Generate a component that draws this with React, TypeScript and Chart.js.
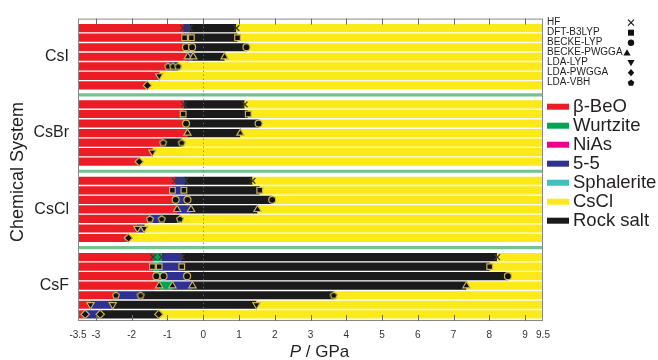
import React, { useEffect, useRef } from "react";
import { Chart, registerables } from "chart.js";

Chart.register(...registerables);

const compounds = ["CsI", "CsBr", "CsCl", "CsF"];
const methods = ["HF", "DFT-B3LYP", "BECKE-LYP", "BECKE-PWGGA", "LDA-LYP", "LDA-PWGGA", "LDA-VBH"];
// method index of each row, top to bottom, inside every compound block
const rowMethods = [0, 1, 2, 3, 6, 4, 5];
const phaseNames = ["β-BeO", "Wurtzite", "NiAs", "5-5", "Sphalerite", "CsCl", "Rock salt"];
const phaseColors = ["#ec1c24", "#00a651", "#ec008c", "#2e3192", "#40bfbf", "#fbe918", "#1a1a1a"];
const pMin = -3.5;
const pMax = 9.5;
const xTickValues = [-3.5, -3, -2, -1, 0, 1, 2, 3, 4, 5, 6, 7, 8, 9, 9.5];
const compoundSlots = [4, 12, 20, 28];
const separatorSlots = [8, 16, 24];

// phase sequence (index into phaseNames) and transition pressures (GPa), per row
const csiPhases = [[0, 3, 6, 5], [0, 3, 6, 5], [0, 3, 6, 5], [0, 3, 6, 5], [0, 3, 6, 5], [0, 5], [0, 5]];
const csiPressures = [[-0.56, -0.38, 0.93], [-0.52, -0.33, 0.96], [-0.48, -0.31, 1.21], [-0.43, -0.28, 0.6], [-0.98, -0.84, -0.7], [-1.23], [-1.56]];
const csbrPhases = [[0, 6, 5], [0, 6, 5], [0, 6, 5], [0, 6, 5], [0, 6, 5], [0, 5], [0, 5]];
const csbrPressures = [[-0.54, 1.16], [-0.56, 1.26], [-0.48, 1.55], [-0.44, 1.04], [-1.12, -0.6], [-1.42], [-1.79]];
const csclPhases = [[0, 3, 6, 5], [0, 3, 6, 5], [0, 3, 6, 5], [0, 3, 6, 5], [0, 3, 6, 5], [0, 3, 5], [0, 5]];
const csclPressures = [[-0.79, -0.51, 1.38], [-0.86, -0.54, 1.58], [-0.77, -0.44, 1.93], [-0.73, -0.34, 1.52], [-1.49, -1.16, -0.65], [-1.84, -1.65], [-2.09]];
const csfPhases = [[0, 1, 3, 6, 5], [0, 1, 3, 6, 5], [0, 1, 3, 6, 5], [0, 1, 3, 6, 5], [0, 3, 6, 5], [0, 3, 6, 5], [0, 3, 6, 5]];
const csfPressures = [[-1.4, -1.16, -0.6, 8.22], [-1.42, -1.23, -0.6, 8.01], [-1.31, -1.11, -0.45, 8.52], [-1.23, -0.86, -0.3, 7.36], [-2.44, -1.75, 3.65], [-3.15, -2.53, 1.49], [-3.3, -2.88, -1.24]];

const allPhases = [csiPhases, csbrPhases, csclPhases, csfPhases];
const allPressures = [csiPressures, csbrPressures, csclPressures, csfPressures];

const FONT = '"Liberation Sans", Arial, Helvetica, sans-serif';
const TXT = "#231f20";
const MARK_EDGE = "#c8b25a";

function slotOf(block: number, row: number) {
  return 1 + block * 8 + row;
}

function makePentagon(r: number, fill: string, stroke: string | null, lw: number) {
  const c = document.createElement("canvas");
  const s = Math.ceil(2 * r + 2 * lw + 2);
  c.width = s;
  c.height = s;
  const g = c.getContext("2d")!;
  drawPentagonPath(g, s / 2, s / 2 + 0.3, r);
  g.fillStyle = fill;
  g.fill();
  if (stroke) {
    g.lineWidth = lw;
    g.strokeStyle = stroke;
    g.stroke();
  }
  return c;
}

function drawPentagonPath(g: CanvasRenderingContext2D, cx: number, cy: number, r: number) {
  g.beginPath();
  for (let i = 0; i < 5; i++) {
    const a = -Math.PI / 2 + (i * 2 * Math.PI) / 5;
    const px = cx + r * Math.cos(a);
    const py = cy + r * Math.sin(a);
    if (i === 0) g.moveTo(px, py);
    else g.lineTo(px, py);
  }
  g.closePath();
}

function drawLegendSymbol(g: CanvasRenderingContext2D, m: number, cx: number, cy: number) {
  g.save();
  g.fillStyle = "#111";
  g.strokeStyle = "#111";
  g.lineWidth = 1.1;
  const r = 3;
  g.beginPath();
  if (m === 0) {
    g.moveTo(cx - r, cy - r);
    g.lineTo(cx + r, cy + r);
    g.moveTo(cx + r, cy - r);
    g.lineTo(cx - r, cy + r);
    g.stroke();
  } else if (m === 1) {
    g.fillRect(cx - 3, cy - 3, 6, 6);
  } else if (m === 2) {
    g.arc(cx, cy, 3.2, 0, Math.PI * 2);
    g.fill();
  } else if (m === 3) {
    g.moveTo(cx, cy - 3.5);
    g.lineTo(cx + 3.6, cy + 2.8);
    g.lineTo(cx - 3.6, cy + 2.8);
    g.closePath();
    g.fill();
  } else if (m === 4) {
    g.moveTo(cx, cy + 3.5);
    g.lineTo(cx + 3.6, cy - 2.8);
    g.lineTo(cx - 3.6, cy - 2.8);
    g.closePath();
    g.fill();
  } else if (m === 5) {
    g.moveTo(cx, cy - 3.6);
    g.lineTo(cx + 3.2, cy);
    g.lineTo(cx, cy + 3.6);
    g.lineTo(cx - 3.2, cy);
    g.closePath();
    g.fill();
  } else {
    drawPentagonPath(g, cx, cy + 0.3, 3.5);
    g.fill();
  }
  g.restore();
}

const decorPlugin = {
  id: "decor",
  afterDatasetsDraw(chart: any) {
    const { ctx, chartArea } = chart;
    const { left, right, top, bottom } = chartArea;
    const xs = chart.scales.x;
    ctx.save();
    // dotted zero line
    const x0 = Math.round(xs.getPixelForValue(0)) + 0.5;
    ctx.strokeStyle = "rgba(115,115,115,0.75)";
    ctx.lineWidth = 1;
    ctx.setLineDash([1.5, 2.5]);
    ctx.beginPath();
    ctx.moveTo(x0, top);
    ctx.lineTo(x0, bottom);
    ctx.stroke();
    ctx.setLineDash([]);
    // frame
    ctx.strokeStyle = "#8a8a8a";
    ctx.strokeRect(left + 0.5, top + 0.5, right - left - 1, bottom - top - 1);
    // inner tick marks top & bottom
    ctx.strokeStyle = "#6a6a6a";
    ctx.beginPath();
    for (const v of xTickValues) {
      if (v === pMin || v === pMax) continue;
      const px = Math.round(xs.getPixelForValue(v)) + 0.5;
      ctx.moveTo(px, top);
      ctx.lineTo(px, top + 6);
      ctx.moveTo(px, bottom);
      ctx.lineTo(px, bottom - 6);
    }
    ctx.stroke();
    ctx.restore();
  },
  afterDraw(chart: any) {
    const { ctx, chartArea } = chart;
    ctx.save();
    ctx.fillStyle = TXT;
    // y axis title
    ctx.save();
    ctx.translate(18, 172);
    ctx.rotate(-Math.PI / 2);
    ctx.font = `18px ${FONT}`;
    ctx.textAlign = "center";
    ctx.textBaseline = "middle";
    ctx.fillText("Chemical System", 0, 0);
    ctx.restore();
    // x axis title
    const cx = (chartArea.left + chartArea.right) / 2 + 9;
    const ty = 352;
    ctx.textBaseline = "middle";
    ctx.textAlign = "left";
    ctx.font = `italic 17px ${FONT}`;
    const wP = ctx.measureText("P").width;
    ctx.font = `17px ${FONT}`;
    const wR = ctx.measureText(" / GPa").width;
    const sx = cx - (wP + wR) / 2;
    ctx.font = `italic 17px ${FONT}`;
    ctx.fillText("P", sx, ty);
    ctx.font = `17px ${FONT}`;
    ctx.fillText(" / GPa", sx + wP, ty);
    // method legend
    ctx.font = `10px ${FONT}`;
    methods.forEach((m, i) => {
      const y = 22.7 + 10 * i;
      ctx.fillStyle = TXT;
      ctx.fillText(m, 547, y);
      drawLegendSymbol(ctx, i, i === 3 ? 627 : 631, y);
    });
    // phase legend
    ctx.font = `18.5px ${FONT}`;
    phaseNames.forEach((p, i) => {
      const y = 106.7 + 19 * i;
      ctx.fillStyle = phaseColors[i];
      ctx.fillRect(547, y - 3, 22, 6);
      ctx.fillStyle = TXT;
      ctx.fillText(p, 573, y + 0.5);
    });
    ctx.restore();
  },
};

export default function App() {
  const ref = useRef<HTMLCanvasElement | null>(null);

  useEffect(() => {
    if (!ref.current) return;

    const phaseDatasets = phaseNames.map((name, ph) => {
      const data: any[] = [];
      allPhases.forEach((rows, b) => {
        rows.forEach((seq, r) => {
          const bounds = [pMin, ...allPressures[b][r], pMax];
          seq.forEach((p, k) => {
            if (p === ph) data.push({ y: slotOf(b, r), x: [bounds[k], bounds[k + 1]] });
          });
        });
      });
      return {
        type: "bar" as const,
        label: name,
        data,
        indexAxis: "y" as const,
        grouped: false,
        barThickness: 7.5,
        backgroundColor: phaseColors[ph],
        borderWidth: 0,
        order: 2,
      };
    });

    const sepDataset = {
      type: "bar" as const,
      label: "separator",
      data: separatorSlots.map((s) => ({ y: s, x: [pMin, pMax] })),
      indexAxis: "y" as const,
      grouped: false,
      barThickness: 2.5,
      backgroundColor: "#74c290",
      borderWidth: 0,
      order: 3,
    };

    const pentagon = makePentagon(3.6, "#111", MARK_EDGE, 1.2);
    const styles: any[] = ["crossRot", "rect", "circle", "triangle", "triangle", "rectRot", pentagon];
    const radii = [4, 4, 3.5, 4.2, 4.2, 4.2, 4];

    const markerDatasets = methods.map((m, mi) => {
      const data: any[] = [];
      allPressures.forEach((rows, b) => {
        rows.forEach((ps, r) => {
          if (rowMethods[r] !== mi) return;
          ps.forEach((p) => data.push({ x: p, y: slotOf(b, r) }));
        });
      });
      return {
        type: "scatter" as const,
        label: m,
        data,
        indexAxis: "x" as const,
        pointStyle: styles[mi],
        pointRadius: radii[mi],
        pointRotation: mi === 4 ? 180 : 0,
        pointBackgroundColor: "#111",
        pointBorderColor: mi === 0 ? "#3a3a3a" : MARK_EDGE,
        pointBorderWidth: mi === 0 ? 1.3 : 1.2,
        order: 0,
      };
    });

    const chart = new Chart(ref.current, {
      type: "bar",
      data: { datasets: [...markerDatasets, ...phaseDatasets, sepDataset] as any },
      options: {
        animation: false,
        responsive: false,
        events: [],
        layout: { padding: { left: 0, right: 115, top: 13, bottom: 0 } },
        plugins: { legend: { display: false }, tooltip: { enabled: false }, title: { display: false } },
        scales: {
          x: {
            type: "linear",
            position: "bottom",
            min: pMin,
            max: pMax,
            offset: false,
            grid: { display: false, drawTicks: false },
            border: { display: false },
            afterBuildTicks: (s: any) => {
              s.ticks = xTickValues.map((v) => ({ value: v }));
            },
            afterFit: (s: any) => {
              s.height = 39;
            },
            ticks: {
              autoSkip: false,
              maxRotation: 0,
              padding: 8,
              color: "#333",
              font: { family: FONT, size: 10 },
              callback: (v: any) => String(v),
            },
          },
          y: {
            type: "linear",
            position: "left",
            min: 0,
            max: 31.7,
            reverse: true,
            offset: false,
            grid: { display: false, drawTicks: false },
            border: { display: false },
            afterBuildTicks: (s: any) => {
              s.ticks = compoundSlots.map((v) => ({ value: v }));
            },
            afterFit: (s: any) => {
              s.width = 78;
            },
            ticks: {
              autoSkip: false,
              padding: 9,
              color: TXT,
              font: { family: FONT, size: 16 },
              callback: (v: any) => compounds[compoundSlots.indexOf(v)] ?? "",
            },
          },
        },
      },
      plugins: [decorPlugin],
    });
    return () => chart.destroy();
  }, []);

  return (
    <div style={{ position: "absolute", left: 0, top: 0, width: 658, height: 360, background: "#fff" }}>
      <canvas ref={ref} width={658} height={360} style={{ display: "block", width: 658, height: 360 }} />
    </div>
  );
}
